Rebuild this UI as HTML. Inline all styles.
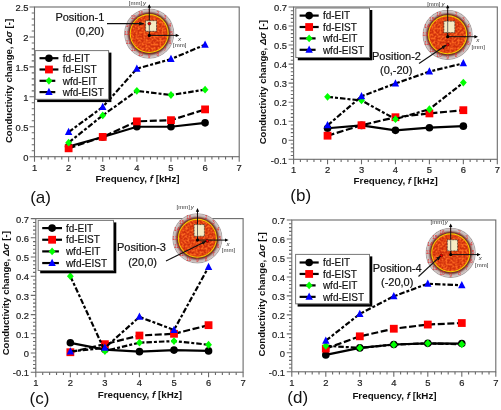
<!DOCTYPE html>
<html><head><meta charset="utf-8"><title>Conductivity change vs frequency</title>
<style>
html,body{margin:0;padding:0;background:#fff;}
body{width:501px;height:410px;overflow:hidden;}
svg{display:block;font-family:"Liberation Sans", sans-serif;will-change:transform;}
</style></head>
<body>
<svg width="501" height="410" viewBox="0 0 501 410">
<rect width="501" height="410" fill="#fff"/>
<defs>
<radialGradient id="ringg" cx="0.5" cy="0.5" r="0.5">
<stop offset="0.76" stop-color="#6a2a20"/>
<stop offset="0.81" stop-color="#7a3a30"/>
<stop offset="0.85" stop-color="#9a7a78"/>
<stop offset="0.89" stop-color="#c2b2b0"/>
<stop offset="0.95" stop-color="#d2c8c7"/>
<stop offset="0.985" stop-color="#a29a9a"/>
<stop offset="1" stop-color="#bcb8b8"/>
</radialGradient>
<filter id="mott" x="0" y="0" width="100%" height="100%" color-interpolation-filters="sRGB">
<feTurbulence type="fractalNoise" baseFrequency="0.5" numOctaves="3" seed="11" result="n"/>
<feColorMatrix in="n" type="matrix" values="0 0 0 0 0.98  0 0 0 0 0.4  0 0 0 0 0.12  3.2 0 0 0 -1.2" result="c"/>
<feComposite in="c" in2="SourceGraphic" operator="in"/>
</filter>
<marker id="arr" viewBox="0 0 8 6" refX="7" refY="3" markerWidth="5" markerHeight="4" orient="auto" markerUnits="userSpaceOnUse">
<path d="M0 0L8 3L0 6Z" fill="#111"/>
</marker>
</defs>
<rect x="34.5" y="7" width="204.7" height="149.7" fill="none" stroke="#6a6a6a" stroke-width="1.1"/>
<path d="M34.5 156.7v5M41.32 156.7v2.8M48.15 156.7v2.8M54.97 156.7v2.8M61.79 156.7v2.8M68.62 156.7v5M75.44 156.7v2.8M82.26 156.7v2.8M89.09 156.7v2.8M95.91 156.7v2.8M102.73 156.7v5M109.56 156.7v2.8M116.38 156.7v2.8M123.2 156.7v2.8M130.03 156.7v2.8M136.85 156.7v5M143.67 156.7v2.8M150.5 156.7v2.8M157.32 156.7v2.8M164.14 156.7v2.8M170.97 156.7v5M177.79 156.7v2.8M184.61 156.7v2.8M191.44 156.7v2.8M198.26 156.7v2.8M205.08 156.7v5M211.91 156.7v2.8M218.73 156.7v2.8M225.55 156.7v2.8M232.38 156.7v2.8M239.2 156.7v5M34.5 156.7h-5M34.5 150.71h-2.8M34.5 144.72h-2.8M34.5 138.74h-2.8M34.5 132.75h-2.8M34.5 126.76h-5M34.5 120.77h-2.8M34.5 114.78h-2.8M34.5 108.8h-2.8M34.5 102.81h-2.8M34.5 96.82h-5M34.5 90.83h-2.8M34.5 84.84h-2.8M34.5 78.86h-2.8M34.5 72.87h-2.8M34.5 66.88h-5M34.5 60.89h-2.8M34.5 54.9h-2.8M34.5 48.92h-2.8M34.5 42.93h-2.8M34.5 36.94h-5M34.5 30.95h-2.8M34.5 24.96h-2.8M34.5 18.98h-2.8M34.5 12.99h-2.8M34.5 7h-5" stroke="#6a6a6a" stroke-width="1.1" fill="none"/>
<g font-size="9.4" fill="#222" stroke="#222" stroke-width="0.2"><text x="34.5" y="170.5" text-anchor="middle">1</text><text x="68.62" y="170.5" text-anchor="middle">2</text><text x="102.73" y="170.5" text-anchor="middle">3</text><text x="136.85" y="170.5" text-anchor="middle">4</text><text x="170.97" y="170.5" text-anchor="middle">5</text><text x="205.08" y="170.5" text-anchor="middle">6</text><text x="239.2" y="170.5" text-anchor="middle">7</text><text x="28.5" y="160.9" text-anchor="end">0</text><text x="28.5" y="130.96" text-anchor="end">0.5</text><text x="28.5" y="101.02" text-anchor="end">1</text><text x="28.5" y="71.08" text-anchor="end">1.5</text><text x="28.5" y="41.14" text-anchor="end">2</text><text x="28.5" y="11.2" text-anchor="end">2.5</text></g>
<text transform="translate(11.8 81) rotate(-90)" text-anchor="middle" font-size="9.55" font-weight="bold" fill="#111">Conductivity change, <tspan font-style="italic">&#916;&#963;</tspan> [-]</text>
<text x="137.5" y="181.6" text-anchor="middle" font-size="9.8" font-weight="bold" fill="#111">Frequency, <tspan font-style="italic">f</tspan> [kHz]</text>
<text x="30.2" y="203" font-size="17" fill="#111">(a)</text>
<g>
<circle cx="149.2" cy="33.6" r="25.1" fill="url(#ringg)"/>
<circle cx="149.2" cy="33.6" r="19.5" fill="#f8cc00"/>
<circle cx="149.2" cy="33.6" r="18.4" fill="#d0300c"/>
<circle cx="149.2" cy="33.6" r="18.4" fill="#000" filter="url(#mott)"/>
<g font-size="4.8" fill="#e42c2c"><text x="149.2" y="12.8" text-anchor="middle">1</text><text x="157.77" y="14.51" text-anchor="middle">2</text><text x="165.04" y="19.36" text-anchor="middle">3</text><text x="169.89" y="26.63" text-anchor="middle">4</text><text x="171.6" y="35.2" text-anchor="middle">5</text><text x="169.89" y="43.77" text-anchor="middle">6</text><text x="165.04" y="51.04" text-anchor="middle">7</text><text x="157.77" y="55.89" text-anchor="middle">8</text><text x="149.2" y="57.6" text-anchor="middle">9</text><text x="140.63" y="55.89" text-anchor="middle">10</text><text x="133.36" y="51.04" text-anchor="middle">11</text><text x="128.51" y="43.77" text-anchor="middle">12</text><text x="126.8" y="35.2" text-anchor="middle">13</text><text x="128.51" y="26.63" text-anchor="middle">14</text><text x="133.36" y="19.36" text-anchor="middle">15</text><text x="140.63" y="14.51" text-anchor="middle">16</text></g>
<path d="M149.3 35.4V6.2 M149.3 35.4H177.3" stroke="#111" stroke-width="1"/>
<rect x="145.6" y="20.7" width="10.9" height="10.6" fill="#f6ecc4" stroke="#222" stroke-width="0.8" stroke-dasharray="0.8,0.7"/>
<path d="M149.3 23.6V30.9" stroke="#555" stroke-width="0.9"/>
<path d="M149.3 4.2L147.6 7.8L151 7.8Z M179.3 35.4L175.7 33.7L175.7 37.1Z" fill="#000"/>
<circle cx="149.3" cy="35.4" r="1.6" fill="#000"/>
<circle cx="149.3" cy="23.6" r="1.5" fill="#e00" stroke="#300" stroke-width="0.5"/>
<text x="128.8" y="5.3" font-size="6" fill="#333">[mm]<tspan dx="0.9" font-style="italic">y</tspan></text>
<text x="178" y="41.2" font-size="6.2" font-style="italic" fill="#333">x</text>
<text x="173" y="47.4" font-size="6" fill="#333">[mm]</text>
</g>
<polyline points="68.62,146.52 102.73,136.94 136.85,126.76 170.97,126.76 205.08,122.87" fill="none" stroke="#000" stroke-width="2.2"/>
<circle cx="68.62" cy="146.52" r="3.8" fill="#000"/>
<circle cx="102.73" cy="136.94" r="3.8" fill="#000"/>
<circle cx="136.85" cy="126.76" r="3.8" fill="#000"/>
<circle cx="170.97" cy="126.76" r="3.8" fill="#000"/>
<circle cx="205.08" cy="122.87" r="3.8" fill="#000"/>
<polyline points="68.62,148.32 102.73,136.94 136.85,121.37 170.97,120.17 205.08,109.39" fill="none" stroke="#000" stroke-width="2.2" stroke-dasharray="7,2.6"/>
<rect x="64.72" y="144.42" width="7.8" height="7.8" fill="#f00"/>
<rect x="98.83" y="133.04" width="7.8" height="7.8" fill="#f00"/>
<rect x="132.95" y="117.47" width="7.8" height="7.8" fill="#f00"/>
<rect x="167.07" y="116.27" width="7.8" height="7.8" fill="#f00"/>
<rect x="201.18" y="105.49" width="7.8" height="7.8" fill="#f00"/>
<polyline points="68.62,142.63 102.73,115.38 136.85,90.83 170.97,95.02 205.08,89.63" fill="none" stroke="#000" stroke-width="2.2" stroke-dasharray="5.5,2,3,2"/>
<path d="M68.62 138.73L72.02 142.63L68.62 146.53L65.22 142.63Z" fill="#0f0"/>
<path d="M102.73 111.48L106.13 115.38L102.73 119.28L99.33 115.38Z" fill="#0f0"/>
<path d="M136.85 86.93L140.25 90.83L136.85 94.73L133.45 90.83Z" fill="#0f0"/>
<path d="M170.97 91.12L174.37 95.02L170.97 98.92L167.57 95.02Z" fill="#0f0"/>
<path d="M205.08 85.73L208.48 89.63L205.08 93.53L201.68 89.63Z" fill="#0f0"/>
<polyline points="68.62,132.15 102.73,107 136.85,68.68 170.97,59.1 205.08,44.72" fill="none" stroke="#000" stroke-width="2.2" stroke-dasharray="5.5,2,3,2"/>
<path d="M68.62 127.85L72.32 135.11L64.92 135.11Z" fill="#00f"/>
<path d="M102.73 102.7L106.43 109.96L99.03 109.96Z" fill="#00f"/>
<path d="M136.85 64.38L140.55 71.64L133.15 71.64Z" fill="#00f"/>
<path d="M170.97 54.8L174.67 62.06L167.27 62.06Z" fill="#00f"/>
<path d="M205.08 40.42L208.78 47.68L201.38 47.68Z" fill="#00f"/>
<rect x="37.2" y="52.6" width="74.2" height="49.5" fill="#000"/>
<rect x="35.2" y="50.6" width="73.4" height="48.7" fill="#fff" stroke="#777" stroke-width="1"/>
<path d="M39.5 58.2H58.4" stroke="#000" stroke-width="2.2"/><circle cx="48.95" cy="58.2" r="3.8" fill="#000"/><text x="62.7" y="61.9" font-size="10" fill="#111" stroke="#111" stroke-width="0.18">fd-EIT</text><path d="M39.5 69.5H58.4" stroke="#000" stroke-width="2.2"/><rect x="45.05" y="65.6" width="7.8" height="7.8" fill="#f00"/><text x="62.7" y="73.2" font-size="10" fill="#111" stroke="#111" stroke-width="0.18">fd-EIST</text><path d="M39.5 80.8H55.3" stroke="#000" stroke-width="2.2"/><path d="M48.95 76.9L52.35 80.8L48.95 84.7L45.55 80.8Z" fill="#0f0"/><text x="62.7" y="84.5" font-size="10" fill="#111" stroke="#111" stroke-width="0.18">wfd-EIT</text><path d="M39.5 92.1H55.3" stroke="#000" stroke-width="2.2"/><path d="M48.95 87.8L52.65 95.06L45.25 95.06Z" fill="#00f"/><text x="62.7" y="95.8" font-size="10" fill="#111" stroke="#111" stroke-width="0.18">wfd-EIST</text>
<text x="55.4" y="20.7" font-size="11" fill="#111" stroke="#111" stroke-width="0.2">Position-1</text>
<text x="75.4" y="35" font-size="11" fill="#111" stroke="#111" stroke-width="0.2">(0,20)</text>
<path d="M107 23.6L143.5 23.6" stroke="#111" stroke-width="1.1" marker-end="url(#arr)"/>
<rect x="293.6" y="7" width="203.7" height="152.3" fill="none" stroke="#6a6a6a" stroke-width="1.1"/>
<path d="M293.6 159.3v5M300.39 159.3v2.8M307.18 159.3v2.8M313.97 159.3v2.8M320.76 159.3v2.8M327.55 159.3v5M334.34 159.3v2.8M341.13 159.3v2.8M347.92 159.3v2.8M354.71 159.3v2.8M361.5 159.3v5M368.29 159.3v2.8M375.08 159.3v2.8M381.87 159.3v2.8M388.66 159.3v2.8M395.45 159.3v5M402.24 159.3v2.8M409.03 159.3v2.8M415.82 159.3v2.8M422.61 159.3v2.8M429.4 159.3v5M436.19 159.3v2.8M442.98 159.3v2.8M449.77 159.3v2.8M456.56 159.3v2.8M463.35 159.3v5M470.14 159.3v2.8M476.93 159.3v2.8M483.72 159.3v2.8M490.51 159.3v2.8M497.3 159.3v5M293.6 159.3h-5M293.6 155.49h-2.8M293.6 151.69h-2.8M293.6 147.88h-2.8M293.6 144.07h-2.8M293.6 140.26h-5M293.6 136.46h-2.8M293.6 132.65h-2.8M293.6 128.84h-2.8M293.6 125.03h-2.8M293.6 121.22h-5M293.6 117.42h-2.8M293.6 113.61h-2.8M293.6 109.8h-2.8M293.6 106h-2.8M293.6 102.19h-5M293.6 98.38h-2.8M293.6 94.57h-2.8M293.6 90.77h-2.8M293.6 86.96h-2.8M293.6 83.15h-5M293.6 79.34h-2.8M293.6 75.54h-2.8M293.6 71.73h-2.8M293.6 67.92h-2.8M293.6 64.11h-5M293.6 60.3h-2.8M293.6 56.5h-2.8M293.6 52.69h-2.8M293.6 48.88h-2.8M293.6 45.07h-5M293.6 41.27h-2.8M293.6 37.46h-2.8M293.6 33.65h-2.8M293.6 29.84h-2.8M293.6 26.04h-5M293.6 22.23h-2.8M293.6 18.42h-2.8M293.6 14.61h-2.8M293.6 10.81h-2.8M293.6 7h-5" stroke="#6a6a6a" stroke-width="1.1" fill="none"/>
<g font-size="9.4" fill="#222" stroke="#222" stroke-width="0.2"><text x="293.6" y="173.1" text-anchor="middle">1</text><text x="327.55" y="173.1" text-anchor="middle">2</text><text x="361.5" y="173.1" text-anchor="middle">3</text><text x="395.45" y="173.1" text-anchor="middle">4</text><text x="429.4" y="173.1" text-anchor="middle">5</text><text x="463.35" y="173.1" text-anchor="middle">6</text><text x="497.3" y="173.1" text-anchor="middle">7</text><text x="287" y="163.5" text-anchor="end">-0.1</text><text x="287" y="144.46" text-anchor="end">0</text><text x="287" y="125.42" text-anchor="end">0.1</text><text x="287" y="106.39" text-anchor="end">0.2</text><text x="287" y="87.35" text-anchor="end">0.3</text><text x="287" y="68.31" text-anchor="end">0.4</text><text x="287" y="49.27" text-anchor="end">0.5</text><text x="287" y="30.24" text-anchor="end">0.6</text><text x="287" y="11.2" text-anchor="end">0.7</text></g>
<text transform="translate(266.3 82.2) rotate(-90)" text-anchor="middle" font-size="9.55" font-weight="bold" fill="#111">Conductivity change, <tspan font-style="italic">&#916;&#963;</tspan> [-]</text>
<text x="395.7" y="184.2" text-anchor="middle" font-size="9.8" font-weight="bold" fill="#111">Frequency, <tspan font-style="italic">f</tspan> [kHz]</text>
<text x="290.3" y="201.4" font-size="17" fill="#111">(b)</text>
<g>
<circle cx="447.6" cy="34.8" r="25.1" fill="url(#ringg)"/>
<circle cx="447.6" cy="34.8" r="19.5" fill="#f8cc00"/>
<circle cx="447.6" cy="34.8" r="18.4" fill="#d0300c"/>
<circle cx="447.6" cy="34.8" r="18.4" fill="#000" filter="url(#mott)"/>
<g font-size="4.8" fill="#e42c2c"><text x="447.6" y="14" text-anchor="middle">1</text><text x="456.17" y="15.71" text-anchor="middle">2</text><text x="463.44" y="20.56" text-anchor="middle">3</text><text x="468.29" y="27.83" text-anchor="middle">4</text><text x="470" y="36.4" text-anchor="middle">5</text><text x="468.29" y="44.97" text-anchor="middle">6</text><text x="463.44" y="52.24" text-anchor="middle">7</text><text x="456.17" y="57.09" text-anchor="middle">8</text><text x="447.6" y="58.8" text-anchor="middle">9</text><text x="439.03" y="57.09" text-anchor="middle">10</text><text x="431.76" y="52.24" text-anchor="middle">11</text><text x="426.91" y="44.97" text-anchor="middle">12</text><text x="425.2" y="36.4" text-anchor="middle">13</text><text x="426.91" y="27.83" text-anchor="middle">14</text><text x="431.76" y="20.56" text-anchor="middle">15</text><text x="439.03" y="15.71" text-anchor="middle">16</text></g>
<path d="M447.7 36.7V6.7 M447.7 36.7H476" stroke="#111" stroke-width="1"/>
<rect x="443.9" y="21.2" width="10.9" height="11.4" fill="#f6ecc4" stroke="#222" stroke-width="0.8" stroke-dasharray="0.8,0.7"/>
<path d="M447.7 21.7V32.2" stroke="#555" stroke-width="0.9"/>
<path d="M447.7 4.7L446 8.3L449.4 8.3Z M478 36.7L474.4 35L474.4 38.4Z" fill="#000"/>
<circle cx="447.7" cy="36.7" r="1.6" fill="#000"/>
<circle cx="447.7" cy="44.7" r="1.5" fill="#e00" stroke="#300" stroke-width="0.5"/>
<text x="427.2" y="5.5" font-size="6" fill="#333">[mm]<tspan dx="0.9" font-style="italic">y</tspan></text>
<text x="476.2" y="42.4" font-size="6.2" font-style="italic" fill="#333">x</text>
<text x="471.5" y="48.6" font-size="6" fill="#333">[mm]</text>
</g>
<polyline points="327.55,128.27 361.5,125.41 395.45,130.36 429.4,127.7 463.35,126.17" fill="none" stroke="#000" stroke-width="2.2"/>
<circle cx="327.55" cy="128.27" r="3.8" fill="#000"/>
<circle cx="361.5" cy="125.41" r="3.8" fill="#000"/>
<circle cx="395.45" cy="130.36" r="3.8" fill="#000"/>
<circle cx="429.4" cy="127.7" r="3.8" fill="#000"/>
<circle cx="463.35" cy="126.17" r="3.8" fill="#000"/>
<polyline points="327.55,135.69 361.5,125.22 395.45,117.23 429.4,113.42 463.35,110.18" fill="none" stroke="#000" stroke-width="2.2" stroke-dasharray="7,2.6"/>
<rect x="323.65" y="131.79" width="7.8" height="7.8" fill="#f00"/>
<rect x="357.6" y="121.32" width="7.8" height="7.8" fill="#f00"/>
<rect x="391.55" y="113.33" width="7.8" height="7.8" fill="#f00"/>
<rect x="425.5" y="109.52" width="7.8" height="7.8" fill="#f00"/>
<rect x="459.45" y="106.28" width="7.8" height="7.8" fill="#f00"/>
<polyline points="327.55,96.86 361.5,100.47 395.45,119.13 429.4,109.23 463.35,82.58" fill="none" stroke="#000" stroke-width="2.2" stroke-dasharray="5.5,2,3,2"/>
<path d="M327.55 92.96L330.95 96.86L327.55 100.76L324.15 96.86Z" fill="#0f0"/>
<path d="M361.5 96.57L364.9 100.47L361.5 104.37L358.1 100.47Z" fill="#0f0"/>
<path d="M395.45 115.23L398.85 119.13L395.45 123.03L392.05 119.13Z" fill="#0f0"/>
<path d="M429.4 105.33L432.8 109.23L429.4 113.13L426 109.23Z" fill="#0f0"/>
<path d="M463.35 78.68L466.75 82.58L463.35 86.48L459.95 82.58Z" fill="#0f0"/>
<polyline points="327.55,125.41 361.5,96.29 395.45,83.53 429.4,71.54 463.35,63.35" fill="none" stroke="#000" stroke-width="2.2" stroke-dasharray="5.5,2,3,2"/>
<path d="M327.55 121.11L331.25 128.37L323.85 128.37Z" fill="#00f"/>
<path d="M361.5 91.99L365.2 99.25L357.8 99.25Z" fill="#00f"/>
<path d="M395.45 79.23L399.15 86.49L391.75 86.49Z" fill="#00f"/>
<path d="M429.4 67.24L433.1 74.5L425.7 74.5Z" fill="#00f"/>
<path d="M463.35 59.05L467.05 66.31L459.65 66.31Z" fill="#00f"/>
<rect x="297.8" y="10" width="74.5" height="50.3" fill="#000"/>
<rect x="295.8" y="8" width="73.7" height="49.5" fill="#fff" stroke="#777" stroke-width="1"/>
<path d="M299.6 15.6H318.7" stroke="#000" stroke-width="2.2"/><circle cx="309.15" cy="15.6" r="3.8" fill="#000"/><text x="322.9" y="19.3" font-size="10" fill="#111" stroke="#111" stroke-width="0.18">fd-EIT</text><path d="M299.6 27H318.7" stroke="#000" stroke-width="2.2"/><rect x="305.25" y="23.1" width="7.8" height="7.8" fill="#f00"/><text x="322.9" y="30.7" font-size="10" fill="#111" stroke="#111" stroke-width="0.18">fd-EIST</text><path d="M299.6 38.4H315.6" stroke="#000" stroke-width="2.2"/><path d="M309.15 34.5L312.55 38.4L309.15 42.3L305.75 38.4Z" fill="#0f0"/><text x="322.9" y="42.1" font-size="10" fill="#111" stroke="#111" stroke-width="0.18">wfd-EIT</text><path d="M299.6 49.8H315.6" stroke="#000" stroke-width="2.2"/><path d="M309.15 45.5L312.85 52.76L305.45 52.76Z" fill="#00f"/><text x="322.9" y="53.5" font-size="10" fill="#111" stroke="#111" stroke-width="0.18">wfd-EIST</text>
<text x="372" y="60.2" font-size="11" fill="#111" stroke="#111" stroke-width="0.2">Position-2</text>
<text x="380" y="74" font-size="11" fill="#111" stroke="#111" stroke-width="0.2">(0,-20)</text>
<path d="M419 63.5L446 45.2" stroke="#111" stroke-width="1.1" marker-end="url(#arr)"/>
<rect x="35.8" y="218.6" width="207.3" height="153.6" fill="none" stroke="#6a6a6a" stroke-width="1.1"/>
<path d="M35.8 372.2v5M42.71 372.2v2.8M49.62 372.2v2.8M56.53 372.2v2.8M63.44 372.2v2.8M70.35 372.2v5M77.26 372.2v2.8M84.17 372.2v2.8M91.08 372.2v2.8M97.99 372.2v2.8M104.9 372.2v5M111.81 372.2v2.8M118.72 372.2v2.8M125.63 372.2v2.8M132.54 372.2v2.8M139.45 372.2v5M146.36 372.2v2.8M153.27 372.2v2.8M160.18 372.2v2.8M167.09 372.2v2.8M174 372.2v5M180.91 372.2v2.8M187.82 372.2v2.8M194.73 372.2v2.8M201.64 372.2v2.8M208.55 372.2v5M215.46 372.2v2.8M222.37 372.2v2.8M229.28 372.2v2.8M236.19 372.2v2.8M243.1 372.2v5M35.8 372.2h-5M35.8 368.36h-2.8M35.8 364.52h-2.8M35.8 360.68h-2.8M35.8 356.84h-2.8M35.8 353h-5M35.8 349.16h-2.8M35.8 345.32h-2.8M35.8 341.48h-2.8M35.8 337.64h-2.8M35.8 333.8h-5M35.8 329.96h-2.8M35.8 326.12h-2.8M35.8 322.28h-2.8M35.8 318.44h-2.8M35.8 314.6h-5M35.8 310.76h-2.8M35.8 306.92h-2.8M35.8 303.08h-2.8M35.8 299.24h-2.8M35.8 295.4h-5M35.8 291.56h-2.8M35.8 287.72h-2.8M35.8 283.88h-2.8M35.8 280.04h-2.8M35.8 276.2h-5M35.8 272.36h-2.8M35.8 268.52h-2.8M35.8 264.68h-2.8M35.8 260.84h-2.8M35.8 257h-5M35.8 253.16h-2.8M35.8 249.32h-2.8M35.8 245.48h-2.8M35.8 241.64h-2.8M35.8 237.8h-5M35.8 233.96h-2.8M35.8 230.12h-2.8M35.8 226.28h-2.8M35.8 222.44h-2.8M35.8 218.6h-5" stroke="#6a6a6a" stroke-width="1.1" fill="none"/>
<g font-size="9.4" fill="#222" stroke="#222" stroke-width="0.2"><text x="35.8" y="386" text-anchor="middle">1</text><text x="70.35" y="386" text-anchor="middle">2</text><text x="104.9" y="386" text-anchor="middle">3</text><text x="139.45" y="386" text-anchor="middle">4</text><text x="174" y="386" text-anchor="middle">5</text><text x="208.55" y="386" text-anchor="middle">6</text><text x="243.1" y="386" text-anchor="middle">7</text><text x="29" y="376.4" text-anchor="end">-0.1</text><text x="29" y="357.2" text-anchor="end">0</text><text x="29" y="338" text-anchor="end">0.1</text><text x="29" y="318.8" text-anchor="end">0.2</text><text x="29" y="299.6" text-anchor="end">0.3</text><text x="29" y="280.4" text-anchor="end">0.4</text><text x="29" y="261.2" text-anchor="end">0.5</text><text x="29" y="242" text-anchor="end">0.6</text><text x="29" y="222.8" text-anchor="end">0.7</text></g>
<text transform="translate(8.9 293.2) rotate(-90)" text-anchor="middle" font-size="9.55" font-weight="bold" fill="#111">Conductivity change, <tspan font-style="italic">&#916;&#963;</tspan> [-]</text>
<text x="139.9" y="398.4" text-anchor="middle" font-size="9.8" font-weight="bold" fill="#111">Frequency, <tspan font-style="italic">f</tspan> [kHz]</text>
<text x="29.6" y="403.6" font-size="17" fill="#111">(c)</text>
<g>
<circle cx="197.4" cy="238.3" r="25.1" fill="url(#ringg)"/>
<circle cx="197.4" cy="238.3" r="19.5" fill="#f8cc00"/>
<circle cx="197.4" cy="238.3" r="18.4" fill="#d0300c"/>
<circle cx="197.4" cy="238.3" r="18.4" fill="#000" filter="url(#mott)"/>
<g font-size="4.8" fill="#e42c2c"><text x="197.4" y="217.5" text-anchor="middle">1</text><text x="205.97" y="219.21" text-anchor="middle">2</text><text x="213.24" y="224.06" text-anchor="middle">3</text><text x="218.09" y="231.33" text-anchor="middle">4</text><text x="219.8" y="239.9" text-anchor="middle">5</text><text x="218.09" y="248.47" text-anchor="middle">6</text><text x="213.24" y="255.74" text-anchor="middle">7</text><text x="205.97" y="260.59" text-anchor="middle">8</text><text x="197.4" y="262.3" text-anchor="middle">9</text><text x="188.83" y="260.59" text-anchor="middle">10</text><text x="181.56" y="255.74" text-anchor="middle">11</text><text x="176.71" y="248.47" text-anchor="middle">12</text><text x="175" y="239.9" text-anchor="middle">13</text><text x="176.71" y="231.33" text-anchor="middle">14</text><text x="181.56" y="224.06" text-anchor="middle">15</text><text x="188.83" y="219.21" text-anchor="middle">16</text></g>
<path d="M197.5 240.1V210.1 M197.5 240.1H226.6" stroke="#111" stroke-width="1"/>
<rect x="194.1" y="224.6" width="10.3" height="11.6" fill="#f6ecc4" stroke="#222" stroke-width="0.8" stroke-dasharray="0.8,0.7"/>
<path d="M197.5 225.1V235.8" stroke="#555" stroke-width="0.9"/>
<path d="M197.5 208.1L195.8 211.7L199.2 211.7Z M228.6 240.1L225 238.4L225 241.8Z" fill="#000"/>
<circle cx="197.5" cy="240.1" r="1.6" fill="#000"/>
<circle cx="207.3" cy="240.9" r="1.5" fill="#e00" stroke="#300" stroke-width="0.5"/>
<text x="176.5" y="209.1" font-size="6" fill="#333">[mm]<tspan dx="0.9" font-style="italic">y</tspan></text>
<text x="226.4" y="246.3" font-size="6.2" font-style="italic" fill="#333">x</text>
<text x="221.8" y="252.2" font-size="6" fill="#333">[mm]</text>
</g>
<polyline points="70.35,342.82 104.9,349.54 139.45,351.66 174,350.12 208.55,350.89" fill="none" stroke="#000" stroke-width="2.2"/>
<circle cx="70.35" cy="342.82" r="3.8" fill="#000"/>
<circle cx="104.9" cy="349.54" r="3.8" fill="#000"/>
<circle cx="139.45" cy="351.66" r="3.8" fill="#000"/>
<circle cx="174" cy="350.12" r="3.8" fill="#000"/>
<circle cx="208.55" cy="350.89" r="3.8" fill="#000"/>
<polyline points="70.35,352.23 104.9,344.17 139.45,335.53 174,333.8 208.55,325.16" fill="none" stroke="#000" stroke-width="2.2" stroke-dasharray="7,2.6"/>
<rect x="66.45" y="348.33" width="7.8" height="7.8" fill="#f00"/>
<rect x="101" y="340.27" width="7.8" height="7.8" fill="#f00"/>
<rect x="135.55" y="331.63" width="7.8" height="7.8" fill="#f00"/>
<rect x="170.1" y="329.9" width="7.8" height="7.8" fill="#f00"/>
<rect x="204.65" y="321.26" width="7.8" height="7.8" fill="#f00"/>
<polyline points="70.35,276.2 104.9,351.08 139.45,342.63 174,341.1 208.55,344.74" fill="none" stroke="#000" stroke-width="2.2" stroke-dasharray="5.5,2,3,2"/>
<path d="M70.35 272.3L73.75 276.2L70.35 280.1L66.95 276.2Z" fill="#0f0"/>
<path d="M104.9 347.18L108.3 351.08L104.9 354.98L101.5 351.08Z" fill="#0f0"/>
<path d="M139.45 338.73L142.85 342.63L139.45 346.53L136.05 342.63Z" fill="#0f0"/>
<path d="M174 337.2L177.4 341.1L174 345L170.6 341.1Z" fill="#0f0"/>
<path d="M208.55 340.84L211.95 344.74L208.55 348.64L205.15 344.74Z" fill="#0f0"/>
<polyline points="70.35,351.46 104.9,347.82 139.45,316.9 174,329.96 208.55,266.98" fill="none" stroke="#000" stroke-width="2.2" stroke-dasharray="5.5,2,3,2"/>
<path d="M70.35 347.16L74.05 354.42L66.65 354.42Z" fill="#00f"/>
<path d="M104.9 343.52L108.6 350.78L101.2 350.78Z" fill="#00f"/>
<path d="M139.45 312.6L143.15 319.86L135.75 319.86Z" fill="#00f"/>
<path d="M174 325.66L177.7 332.92L170.3 332.92Z" fill="#00f"/>
<path d="M208.55 262.68L212.25 269.94L204.85 269.94Z" fill="#00f"/>
<rect x="40.2" y="222.4" width="76.1" height="50.9" fill="#000"/>
<rect x="38.2" y="220.4" width="75.3" height="50.1" fill="#fff" stroke="#777" stroke-width="1"/>
<path d="M42.2 228.1H62" stroke="#000" stroke-width="2.2"/><circle cx="52.1" cy="228.1" r="3.8" fill="#000"/><text x="65.9" y="231.8" font-size="10" fill="#111" stroke="#111" stroke-width="0.18">fd-EIT</text><path d="M42.2 239.75H62" stroke="#000" stroke-width="2.2"/><rect x="48.2" y="235.85" width="7.8" height="7.8" fill="#f00"/><text x="65.9" y="243.45" font-size="10" fill="#111" stroke="#111" stroke-width="0.18">fd-EIST</text><path d="M42.2 251.4H58.9" stroke="#000" stroke-width="2.2"/><path d="M52.1 247.5L55.5 251.4L52.1 255.3L48.7 251.4Z" fill="#0f0"/><text x="65.9" y="255.1" font-size="10" fill="#111" stroke="#111" stroke-width="0.18">wfd-EIT</text><path d="M42.2 263.05H58.9" stroke="#000" stroke-width="2.2"/><path d="M52.1 258.75L55.8 266.01L48.4 266.01Z" fill="#00f"/><text x="65.9" y="266.75" font-size="10" fill="#111" stroke="#111" stroke-width="0.18">wfd-EIST</text>
<text x="117" y="251.3" font-size="11" fill="#111" stroke="#111" stroke-width="0.2">Position-3</text>
<text x="128.2" y="265.8" font-size="11" fill="#111" stroke="#111" stroke-width="0.2">(20,0)</text>
<path d="M166 261L206 241.3" stroke="#111" stroke-width="1.1" marker-end="url(#arr)"/>
<rect x="291.8" y="220" width="204" height="151.8" fill="none" stroke="#6a6a6a" stroke-width="1.1"/>
<path d="M291.8 371.8v5M298.6 371.8v2.8M305.4 371.8v2.8M312.2 371.8v2.8M319 371.8v2.8M325.8 371.8v5M332.6 371.8v2.8M339.4 371.8v2.8M346.2 371.8v2.8M353 371.8v2.8M359.8 371.8v5M366.6 371.8v2.8M373.4 371.8v2.8M380.2 371.8v2.8M387 371.8v2.8M393.8 371.8v5M400.6 371.8v2.8M407.4 371.8v2.8M414.2 371.8v2.8M421 371.8v2.8M427.8 371.8v5M434.6 371.8v2.8M441.4 371.8v2.8M448.2 371.8v2.8M455 371.8v2.8M461.8 371.8v5M468.6 371.8v2.8M475.4 371.8v2.8M482.2 371.8v2.8M489 371.8v2.8M495.8 371.8v5M291.8 371.8h-5M291.8 368h-2.8M291.8 364.21h-2.8M291.8 360.42h-2.8M291.8 356.62h-2.8M291.8 352.82h-5M291.8 349.03h-2.8M291.8 345.24h-2.8M291.8 341.44h-2.8M291.8 337.64h-2.8M291.8 333.85h-5M291.8 330.06h-2.8M291.8 326.26h-2.8M291.8 322.47h-2.8M291.8 318.67h-2.8M291.8 314.88h-5M291.8 311.08h-2.8M291.8 307.28h-2.8M291.8 303.49h-2.8M291.8 299.69h-2.8M291.8 295.9h-5M291.8 292.11h-2.8M291.8 288.31h-2.8M291.8 284.51h-2.8M291.8 280.72h-2.8M291.8 276.93h-5M291.8 273.13h-2.8M291.8 269.33h-2.8M291.8 265.54h-2.8M291.8 261.75h-2.8M291.8 257.95h-5M291.8 254.16h-2.8M291.8 250.36h-2.8M291.8 246.56h-2.8M291.8 242.77h-2.8M291.8 238.97h-5M291.8 235.18h-2.8M291.8 231.38h-2.8M291.8 227.59h-2.8M291.8 223.79h-2.8M291.8 220h-5" stroke="#6a6a6a" stroke-width="1.1" fill="none"/>
<g font-size="9.4" fill="#222" stroke="#222" stroke-width="0.2"><text x="291.8" y="385.6" text-anchor="middle">1</text><text x="325.8" y="385.6" text-anchor="middle">2</text><text x="359.8" y="385.6" text-anchor="middle">3</text><text x="393.8" y="385.6" text-anchor="middle">4</text><text x="427.8" y="385.6" text-anchor="middle">5</text><text x="461.8" y="385.6" text-anchor="middle">6</text><text x="495.8" y="385.6" text-anchor="middle">7</text><text x="285" y="376" text-anchor="end">-0.1</text><text x="285" y="357.02" text-anchor="end">0</text><text x="285" y="338.05" text-anchor="end">0.1</text><text x="285" y="319.07" text-anchor="end">0.2</text><text x="285" y="300.1" text-anchor="end">0.3</text><text x="285" y="281.12" text-anchor="end">0.4</text><text x="285" y="262.15" text-anchor="end">0.5</text><text x="285" y="243.17" text-anchor="end">0.6</text><text x="285" y="224.2" text-anchor="end">0.7</text></g>
<text transform="translate(264.6 294.3) rotate(-90)" text-anchor="middle" font-size="9.55" font-weight="bold" fill="#111">Conductivity change, <tspan font-style="italic">&#916;&#963;</tspan> [-]</text>
<text x="394.5" y="398.6" text-anchor="middle" font-size="9.8" font-weight="bold" fill="#111">Frequency, <tspan font-style="italic">f</tspan> [kHz]</text>
<text x="287.3" y="403.4" font-size="17" fill="#111">(d)</text>
<g>
<circle cx="450.7" cy="252.8" r="25.1" fill="url(#ringg)"/>
<circle cx="450.7" cy="252.8" r="19.5" fill="#f8cc00"/>
<circle cx="450.7" cy="252.8" r="18.4" fill="#d0300c"/>
<circle cx="450.7" cy="252.8" r="18.4" fill="#000" filter="url(#mott)"/>
<g font-size="4.8" fill="#e42c2c"><text x="450.7" y="232" text-anchor="middle">1</text><text x="459.27" y="233.71" text-anchor="middle">2</text><text x="466.54" y="238.56" text-anchor="middle">3</text><text x="471.39" y="245.83" text-anchor="middle">4</text><text x="473.1" y="254.4" text-anchor="middle">5</text><text x="471.39" y="262.97" text-anchor="middle">6</text><text x="466.54" y="270.24" text-anchor="middle">7</text><text x="459.27" y="275.09" text-anchor="middle">8</text><text x="450.7" y="276.8" text-anchor="middle">9</text><text x="442.13" y="275.09" text-anchor="middle">10</text><text x="434.86" y="270.24" text-anchor="middle">11</text><text x="430.01" y="262.97" text-anchor="middle">12</text><text x="428.3" y="254.4" text-anchor="middle">13</text><text x="430.01" y="245.83" text-anchor="middle">14</text><text x="434.86" y="238.56" text-anchor="middle">15</text><text x="442.13" y="233.71" text-anchor="middle">16</text></g>
<path d="M450.7 254.6V225.5 M450.7 254.6H478.6" stroke="#111" stroke-width="1"/>
<rect x="447.3" y="239.8" width="10.3" height="11.1" fill="#f6ecc4" stroke="#222" stroke-width="0.8" stroke-dasharray="0.8,0.7"/>
<path d="M450.7 240.3V250.5" stroke="#555" stroke-width="0.9"/>
<path d="M450.7 223.5L449 227.1L452.4 227.1Z M480.6 254.6L477 252.9L477 256.3Z" fill="#000"/>
<circle cx="450.7" cy="254.6" r="1.6" fill="#000"/>
<circle cx="441.3" cy="255.5" r="1.5" fill="#e00" stroke="#300" stroke-width="0.5"/>
<text x="430.6" y="224.2" font-size="6" fill="#333">[mm]<tspan dx="0.9" font-style="italic">y</tspan></text>
<text x="478.7" y="260.2" font-size="6.2" font-style="italic" fill="#333">x</text>
<text x="475" y="266.5" font-size="6" fill="#333">[mm]</text>
</g>
<polyline points="325.8,354.91 359.8,347.89 393.8,344.48 427.8,343.34 461.8,343.53" fill="none" stroke="#000" stroke-width="2.2"/>
<circle cx="325.8" cy="354.91" r="3.8" fill="#000"/>
<circle cx="359.8" cy="347.89" r="3.8" fill="#000"/>
<circle cx="393.8" cy="344.48" r="3.8" fill="#000"/>
<circle cx="427.8" cy="343.34" r="3.8" fill="#000"/>
<circle cx="461.8" cy="343.53" r="3.8" fill="#000"/>
<polyline points="325.8,348.65 359.8,336.32 393.8,328.73 427.8,324.55 461.8,323.03" fill="none" stroke="#000" stroke-width="2.2" stroke-dasharray="7,2.6"/>
<rect x="321.9" y="344.75" width="7.8" height="7.8" fill="#f00"/>
<rect x="355.9" y="332.42" width="7.8" height="7.8" fill="#f00"/>
<rect x="389.9" y="324.83" width="7.8" height="7.8" fill="#f00"/>
<rect x="423.9" y="320.65" width="7.8" height="7.8" fill="#f00"/>
<rect x="457.9" y="319.13" width="7.8" height="7.8" fill="#f00"/>
<polyline points="325.8,345.8 359.8,347.89 393.8,344.67 427.8,343.34 461.8,344.29" fill="none" stroke="#000" stroke-width="2.2" stroke-dasharray="5.5,2,3,2"/>
<path d="M325.8 341.9L329.2 345.8L325.8 349.7L322.4 345.8Z" fill="#0f0"/>
<path d="M359.8 343.99L363.2 347.89L359.8 351.79L356.4 347.89Z" fill="#0f0"/>
<path d="M393.8 340.77L397.2 344.67L393.8 348.57L390.4 344.67Z" fill="#0f0"/>
<path d="M427.8 339.44L431.2 343.34L427.8 347.24L424.4 343.34Z" fill="#0f0"/>
<path d="M461.8 340.39L465.2 344.29L461.8 348.19L458.4 344.29Z" fill="#0f0"/>
<polyline points="325.8,340.68 359.8,313.93 393.8,296.28 427.8,283.76 461.8,285.27" fill="none" stroke="#000" stroke-width="2.2" stroke-dasharray="5.5,2,3,2"/>
<path d="M325.8 336.38L329.5 343.64L322.1 343.64Z" fill="#00f"/>
<path d="M359.8 309.63L363.5 316.89L356.1 316.89Z" fill="#00f"/>
<path d="M393.8 291.98L397.5 299.24L390.1 299.24Z" fill="#00f"/>
<path d="M427.8 279.46L431.5 286.72L424.1 286.72Z" fill="#00f"/>
<path d="M461.8 280.97L465.5 288.23L458.1 288.23Z" fill="#00f"/>
<rect x="297.6" y="256.4" width="74.7" height="50.2" fill="#000"/>
<rect x="295.6" y="254.4" width="73.9" height="49.4" fill="#fff" stroke="#777" stroke-width="1"/>
<path d="M299.6 262.5H318.7" stroke="#000" stroke-width="2.2"/><circle cx="309.15" cy="262.5" r="3.8" fill="#000"/><text x="322.9" y="266.2" font-size="10" fill="#111" stroke="#111" stroke-width="0.18">fd-EIT</text><path d="M299.6 273.95H318.7" stroke="#000" stroke-width="2.2"/><rect x="305.25" y="270.05" width="7.8" height="7.8" fill="#f00"/><text x="322.9" y="277.65" font-size="10" fill="#111" stroke="#111" stroke-width="0.18">fd-EIST</text><path d="M299.6 285.4H315.6" stroke="#000" stroke-width="2.2"/><path d="M309.15 281.5L312.55 285.4L309.15 289.3L305.75 285.4Z" fill="#0f0"/><text x="322.9" y="289.1" font-size="10" fill="#111" stroke="#111" stroke-width="0.18">wfd-EIT</text><path d="M299.6 296.85H315.6" stroke="#000" stroke-width="2.2"/><path d="M309.15 292.55L312.85 299.81L305.45 299.81Z" fill="#00f"/><text x="322.9" y="300.55" font-size="10" fill="#111" stroke="#111" stroke-width="0.18">wfd-EIST</text>
<text x="372.7" y="271.9" font-size="11" fill="#111" stroke="#111" stroke-width="0.2">Position-4</text>
<text x="381" y="285.8" font-size="11" fill="#111" stroke="#111" stroke-width="0.2">(-20,0)</text>
<path d="M418.5 276.5L440.5 256.2" stroke="#111" stroke-width="1.1" marker-end="url(#arr)"/>
</svg>
</body></html>
